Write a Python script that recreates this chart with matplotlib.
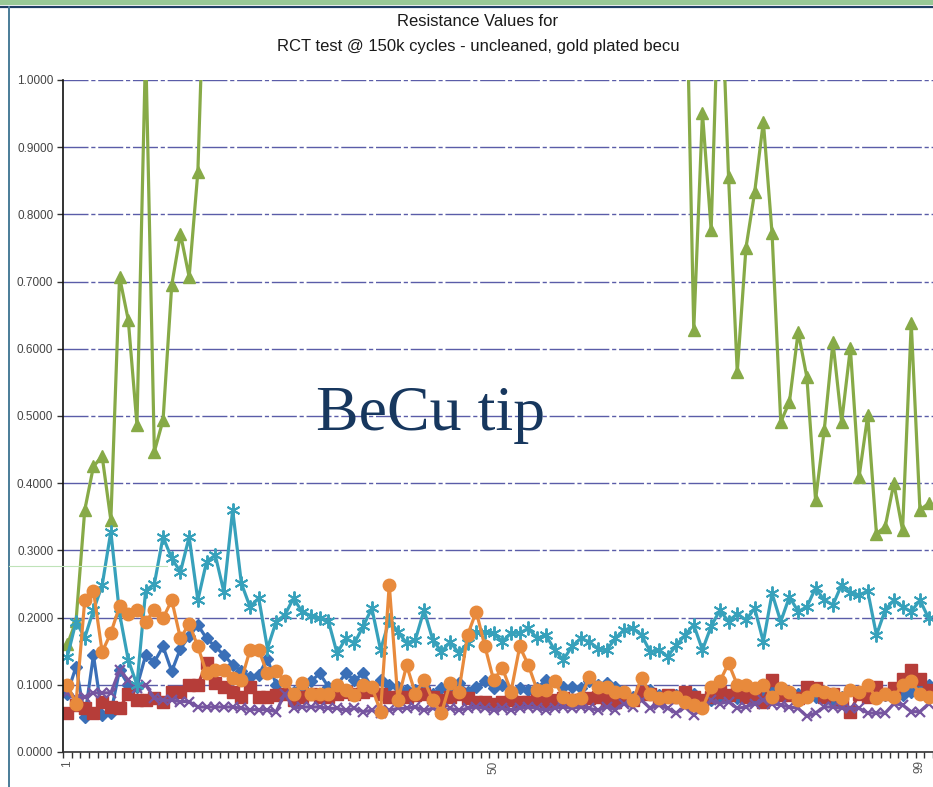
import numpy as np
import matplotlib
matplotlib.use("Agg")
import matplotlib.pyplot as plt
from matplotlib.lines import Line2D
from matplotlib.patches import Rectangle

plt.rcParams['font.family'] = ['Liberation Sans', 'DejaVu Sans']

# Measurement index (1..100)
cycles = np.arange(1, 101)

# Series 1 - blue diamonds
series_blue = [
    0.087, 0.127, 0.052, 0.144, 0.055, 0.058, 0.122, 0.100, 0.097, 0.144,
    0.134, 0.157, 0.120, 0.154, 0.172, 0.189, 0.169, 0.157, 0.144, 0.130,
    0.120, 0.112, 0.115, 0.139, 0.100, 0.087, 0.090, 0.097, 0.105, 0.117,
    0.097, 0.100, 0.117, 0.107, 0.117, 0.097, 0.107, 0.100, 0.097, 0.092,
    0.092, 0.097, 0.087, 0.095, 0.097, 0.102, 0.090, 0.097, 0.105, 0.095,
    0.100, 0.090, 0.095, 0.092, 0.095, 0.107, 0.105, 0.097, 0.097, 0.095,
    0.105, 0.100, 0.102, 0.097, 0.090, 0.082, 0.087, 0.092, 0.085, 0.082,
    0.085, 0.080, 0.087, 0.078, 0.077, 0.080, 0.085, 0.080, 0.090, 0.082,
    0.085, 0.092, 0.088, 0.085, 0.087, 0.085, 0.082, 0.080, 0.075, 0.082,
    0.092, 0.088, 0.085, 0.080, 0.085, 0.080, 0.085, 0.090, 0.097, 0.100,
]

# Series 2 - red squares
series_red = [
    0.058, 0.070, 0.065, 0.058, 0.075, 0.067, 0.065, 0.087, 0.077, 0.077,
    0.080, 0.075, 0.090, 0.090, 0.100, 0.100, 0.132, 0.102, 0.097, 0.090,
    0.082, 0.097, 0.082, 0.082, 0.085, 0.087, 0.077, 0.082, 0.087, 0.082,
    0.082, 0.087, 0.090, 0.087, 0.090, 0.092, 0.087, 0.082, 0.082, 0.082,
    0.085, 0.087, 0.082, 0.077, 0.082, 0.087, 0.080, 0.075, 0.075, 0.072,
    0.075, 0.077, 0.075, 0.075, 0.077, 0.075, 0.077, 0.080, 0.077, 0.077,
    0.080, 0.082, 0.077, 0.075, 0.082, 0.077, 0.090, 0.087, 0.077, 0.085,
    0.082, 0.090, 0.082, 0.077, 0.082, 0.090, 0.085, 0.090, 0.082, 0.087,
    0.075, 0.107, 0.085, 0.085, 0.080, 0.097, 0.095, 0.082, 0.087, 0.075,
    0.060, 0.087, 0.082, 0.097, 0.087, 0.095, 0.109, 0.122, 0.109, 0.092,
]

# Series 3 - green triangles (None = reading above the 1.0 axis limit)
series_green = [
    0.160, 0.195, 0.360, 0.425, 0.440, 0.345, 0.707, 0.643, 0.487, 1.050,
    0.447, 0.494, 0.695, 0.771, 0.707, 0.863, 1.270, None, None, None,
    None, None, None, None, None, None, None, None, None, None,
    None, None, None, None, None, None, None, None, None, None,
    None, None, None, None, None, None, None, None, None, None,
    None, None, None, None, None, None, None, None, None, None,
    None, None, None, None, None, None, None, None, None, None,
    None, 1.250, 0.628, 0.951, 0.777, 1.200, 0.856, 0.565, 0.750, 0.833,
    0.938, 0.772, 0.491, 0.521, 0.625, 0.558, 0.375, 0.479, 0.610, 0.491,
    0.601, 0.409, 0.501, 0.325, 0.335, 0.400, 0.330, 0.638, 0.360, 0.370,
]

# Series 4 - purple crosses
series_purple = [
    0.088, 0.080, 0.082, 0.088, 0.088, 0.088, 0.122, 0.107, 0.095, 0.100,
    0.080, 0.077, 0.077, 0.075, 0.075, 0.067, 0.067, 0.067, 0.067, 0.067,
    0.065, 0.063, 0.063, 0.063, 0.060, 0.087, 0.065, 0.067, 0.067, 0.067,
    0.065, 0.065, 0.062, 0.065, 0.060, 0.062, 0.058, 0.062, 0.065, 0.065,
    0.067, 0.062, 0.065, 0.060, 0.065, 0.062, 0.065, 0.067, 0.065, 0.062,
    0.065, 0.062, 0.065, 0.067, 0.065, 0.062, 0.065, 0.067, 0.065, 0.067,
    0.065, 0.062, 0.067, 0.063, 0.072, 0.067, 0.077, 0.065, 0.070, 0.065,
    0.058, 0.067, 0.055, 0.065, 0.077, 0.072, 0.075, 0.065, 0.067, 0.072,
    0.077, 0.072, 0.070, 0.067, 0.065, 0.053, 0.058, 0.067, 0.067, 0.065,
    0.065, 0.065, 0.058, 0.058, 0.058, 0.072, 0.070, 0.060, 0.060, 0.072,
]

# Series 5 - teal stars
series_teal = [
    0.142, 0.194, 0.170, 0.211, 0.248, 0.328, 0.206, 0.137, 0.100, 0.240,
    0.250, 0.320, 0.288, 0.268, 0.320, 0.226, 0.283, 0.293, 0.238, 0.360,
    0.251, 0.216, 0.229, 0.154, 0.194, 0.204, 0.229, 0.208, 0.203, 0.199,
    0.195, 0.147, 0.169, 0.162, 0.187, 0.214, 0.152, 0.196, 0.179, 0.162,
    0.167, 0.211, 0.167, 0.149, 0.164, 0.147, 0.162, 0.179, 0.179, 0.177,
    0.164, 0.177, 0.177, 0.184, 0.169, 0.174, 0.152, 0.137, 0.157, 0.169,
    0.164, 0.154, 0.152, 0.169, 0.182, 0.184, 0.174, 0.149, 0.152, 0.142,
    0.159, 0.174, 0.189, 0.152, 0.187, 0.211, 0.194, 0.206, 0.196, 0.214,
    0.164, 0.236, 0.194, 0.231, 0.209, 0.216, 0.244, 0.226, 0.219, 0.249,
    0.236, 0.234, 0.239, 0.174, 0.211, 0.226, 0.216, 0.209, 0.226, 0.199,
]

# Series 6 - orange circles
series_orange = [
    0.100, 0.072, 0.226, 0.240, 0.149, 0.177, 0.217, 0.206, 0.211, 0.194,
    0.211, 0.199, 0.226, 0.169, 0.191, 0.157, 0.117, 0.122, 0.122, 0.110,
    0.107, 0.152, 0.152, 0.117, 0.120, 0.105, 0.087, 0.102, 0.087, 0.087,
    0.087, 0.100, 0.092, 0.085, 0.100, 0.097, 0.060, 0.249, 0.077, 0.129,
    0.087, 0.107, 0.077, 0.058, 0.102, 0.090, 0.174, 0.209, 0.157, 0.107,
    0.125, 0.090, 0.157, 0.129, 0.092, 0.092, 0.105, 0.082, 0.077, 0.080,
    0.112, 0.097, 0.097, 0.090, 0.090, 0.077, 0.110, 0.087, 0.080, 0.082,
    0.082, 0.075, 0.070, 0.065, 0.097, 0.105, 0.132, 0.100, 0.100, 0.095,
    0.100, 0.082, 0.095, 0.090, 0.077, 0.082, 0.092, 0.090, 0.087, 0.080,
    0.092, 0.090, 0.100, 0.080, 0.087, 0.082, 0.100, 0.105, 0.087, 0.082,
]

y_ticks = [0.0, 0.1, 0.2, 0.3, 0.4, 0.5, 0.6, 0.7, 0.8, 0.9, 1.0]
x_labels = [1, 50, 99]

W, H = 933, 787
fig = plt.figure(figsize=(W / 100, H / 100), dpi=100)
fig.patch.set_facecolor('white')

# window frame: green strip, navy rule, left border
fig.patches.append(Rectangle((0, 1 - 5 / H), 1, 5 / H, transform=fig.transFigure,
                             facecolor='#98c896', edgecolor='none', zorder=0))
fig.lines.append(Line2D([0, 1], [1 - 6.5 / H] * 2, transform=fig.transFigure,
                        color='#1f3d63', lw=1.6))
fig.lines.append(Line2D([8.5 / W] * 2, [0, 1 - 7 / H], transform=fig.transFigure,
                        color='#4a7c98', lw=1.4))
fig.lines.append(Line2D([9 / W, 167 / W], [1 - 566 / H] * 2, transform=fig.transFigure,
                        color='#bfe3b8', lw=0.8))

ax = fig.add_axes([63 / W, (H - 752) / H, (W - 63) / W, (752 - 80) / H])
ax.set_xlim(0.5, 100.5)
ax.set_ylim(0, 1.0)

ax.set_yticks(y_ticks)
ax.set_yticklabels([f"{v:.4f}" for v in y_ticks])
ax.yaxis.grid(True, color='#5a5ca8', lw=1.0, linestyle=(0, (18, 2, 3, 2)))
ax.set_axisbelow(True)

ax.set_xticks(x_labels)
ax.set_xticklabels([str(v) for v in x_labels], rotation=90)
ax.set_xticks(np.arange(0.5, 101, 1.0), minor=True)
ax.tick_params(axis='x', which='major', length=0, labelsize=8.5,
               labelcolor='#555555', pad=6)
ax.tick_params(axis='x', which='minor', length=4, width=1.0, color='#333333',
               direction='out')
ax.tick_params(axis='y', length=4, width=1.0, color='#333333', labelsize=8.5,
               labelcolor='#444444', pad=3)

for side in ('top', 'right'):
    ax.spines[side].set_visible(False)
ax.spines['left'].set_color('#111111')
ax.spines['bottom'].set_color('#333333')
ax.spines['left'].set_linewidth(1.2)
ax.spines['bottom'].set_linewidth(1.2)

lw = 2.3
styles = [
    (series_blue, '#3a6fb7', dict(marker='D', ms=6.5)),
    (series_red, '#b63d39', dict(marker='s', ms=8)),
    (series_green, '#87aa47', dict(marker='^', ms=9)),
    (series_purple, '#7655a0', dict(marker='x', ms=7, mew=1.6)),
    (series_teal, '#37a1bb', dict(marker=(6, 2, 0), ms=10, mew=1.4)),
    (series_orange, '#e88a3c', dict(marker='o', ms=9)),
]
for vals, col, mk in styles:
    y = np.array(vals, dtype=float)
    ax.plot(cycles, y, color=col, lw=lw, mfc=col, mec=col, **mk)

fig.text(478 / W, 1 - 22 / H, "Resistance Values for", ha='center', va='center',
         fontsize=12, color='#1a1a1a')
fig.text(478 / W, 1 - 47 / H, "RCT test @ 150k cycles - uncleaned, gold plated becu",
         ha='center', va='center', fontsize=12, color='#1a1a1a')
fig.text(431 / W, 1 - 430 / H, "BeCu tip", ha='center', va='baseline',
         family='Liberation Serif', fontsize=46, color='#17375e')

fig.savefig("out.png", dpi=100)
